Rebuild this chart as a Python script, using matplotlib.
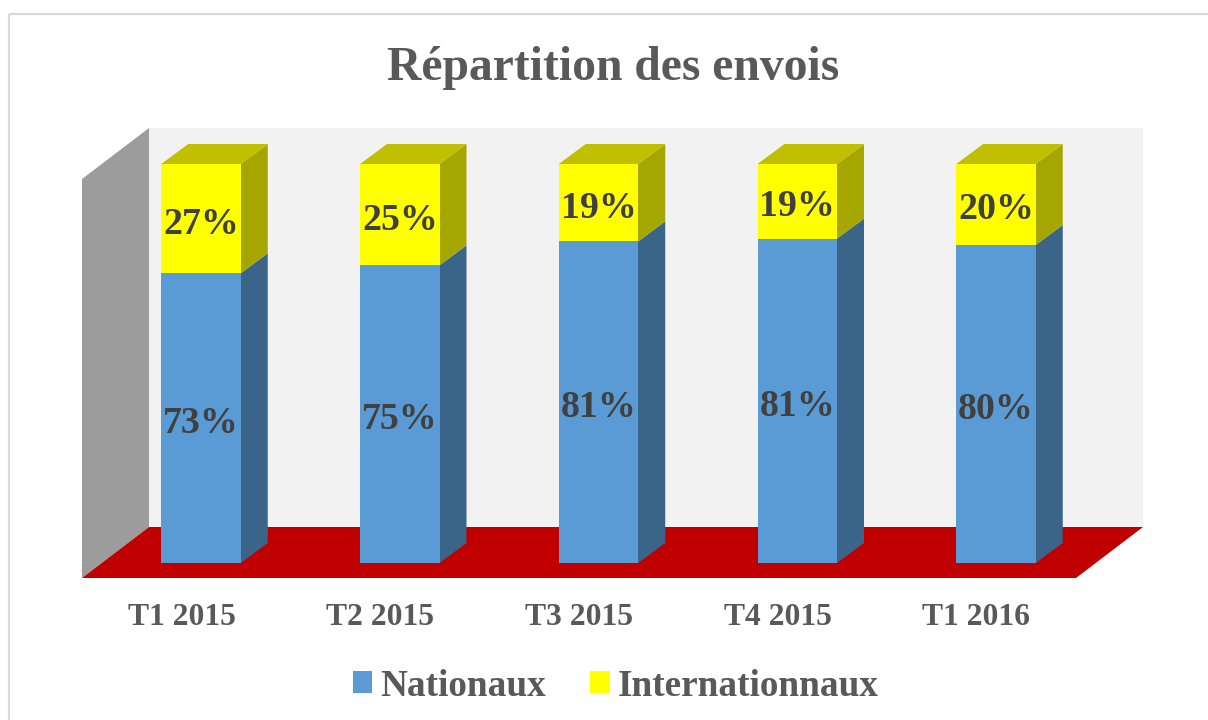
import matplotlib
matplotlib.use("Agg")
from matplotlib import pyplot as plt
from matplotlib.patches import Patch, Rectangle

plt.rcParams['font.family'] = ['Liberation Serif', 'DejaVu Serif']
plt.rcParams['font.weight'] = 'bold'

title = "Répartition des envois"
categories = ["T1 2015", "T2 2015", "T3 2015", "T4 2015", "T1 2016"]
nationaux = [72.6, 74.6, 80.6, 81.3, 79.7]
internationaux = [27.4, 25.4, 19.4, 18.7, 20.3]

W, H = 1208, 720

# repere en pixels de l'image
px_per_cat = 198.75
px_per_pct = 3.99
x0_px = 201.0
y0_px = 563

left, right, top, bottom = 82, 1143, 128, 578

def px_x(p):
    return (p - x0_px) / px_per_cat

def px_y(p):
    return (y0_px - p) / px_per_pct

fig = plt.figure(figsize=(W / 100, H / 100), dpi=100)
fig.patches.append(Rectangle((9 / W, 1 - 14 / H), 1.2, -1.2, transform=fig.transFigure,
                             fill=False, edgecolor='#d9d9d9', linewidth=1.6))

ax = fig.add_axes([left / W, 1 - bottom / H, (right - left) / W, (bottom - top) / H])
ax.set_xlim(px_x(left), px_x(right))
ax.set_ylim(px_y(bottom), px_y(top))
ax.patch.set_visible(False)
for s in ax.spines.values():
    s.set_visible(False)
ax.set_yticks([])

# profondeur
bar_w = 79.5 / px_per_cat
dx = 27 / px_per_cat
dy = 20 / px_per_pct
wall_dx = 67 / px_per_cat
wall_dy = 51 / px_per_pct
label_shift = 5.5 / px_per_pct  # etiquettes un peu sous le milieu
tick_shift = 19.5 / px_per_cat  # axe sur le bord avant du sol
seam = 1.5 / px_per_cat  # la face laterale passe sous la barre

# murs et sol
x_l, x_r = ax.get_xlim()
y_b, y_t = ax.get_ylim()
ax.fill([x_l + wall_dx, x_r, x_r, x_l + wall_dx], [y_b + wall_dy, y_b + wall_dy, y_t, y_t],
        color='#f2f2f2', lw=0, zorder=1)
ax.fill([x_l, x_l + wall_dx, x_l + wall_dx, x_l], [y_b, y_b + wall_dy, y_t, y_t - wall_dy],
        color='#9c9c9c', lw=0, zorder=2)
ax.fill([x_l, x_l + wall_dx, x_r, x_r - wall_dx], [y_b, y_b + wall_dy, y_b + wall_dy, y_b],
        color='#c00000', lw=0, zorder=2)


def draw_box(x, base, val, front, side, zorder):
    x1 = x + bar_w / 2
    ax.fill([x1 - seam, x1, x1 + dx, x1 + dx, x1, x1 - seam],
            [base, base, base + dy, base + val + dy, base + val, base + val],
            color=side, lw=0, zorder=zorder)
    ax.bar(x, val, bar_w, bottom=base, color=front, lw=0, zorder=zorder + 0.5)


for i, cat in enumerate(categories):
    nat = nationaux[i]
    inter = internationaux[i]
    draw_box(i, 0, nat, '#5b9bd5', '#3a6488', 3)
    draw_box(i, nat, inter, '#ffff00', '#a6a600', 3)
    # dessus
    x0 = i - bar_w / 2
    x1 = i + bar_w / 2
    y_top = nat + inter
    ax.fill([x0, x0 + dx, x1 + dx, x1], [y_top, y_top + dy, y_top + dy, y_top],
            color='#c0c000', lw=0, zorder=3)
    ax.text(i, nat / 2 - label_shift, "%.0f%%" % nat, ha='center', va='center', fontsize=27.3,
            color='#404040', zorder=5)
    ax.text(i, nat + inter / 2 - label_shift, "%.0f%%" % inter, ha='center', va='center', fontsize=27.3,
            color='#404040', zorder=5)

ax.set_xticks([i - tick_shift for i in range(len(categories))])
ax.set_xticklabels(categories, fontsize=22.8, color='#595959', fontweight='bold')
ax.tick_params(axis='x', length=0, pad=18)

fig.text(613.5 / W, 1 - 68 / H, title, ha='center', va='center', fontsize=34.3,
         color='#595959', fontweight='bold')

handles = [Patch(color='#5b9bd5', lw=0), Patch(color='#ffff00', lw=0)]
fig.legend(handles, ["Nationaux", "Internationnaux"], ncol=2, loc='center',
           bbox_to_anchor=(615.5 / W, 1 - 686 / H), frameon=False,
           prop={'size': 26.8, 'weight': 'bold'}, labelcolor='#595959',
           handlelength=0.53, handleheight=0.53, handletextpad=0.2,
           columnspacing=1.2, borderpad=0, borderaxespad=0)

fig.savefig("out.png", dpi=100)
